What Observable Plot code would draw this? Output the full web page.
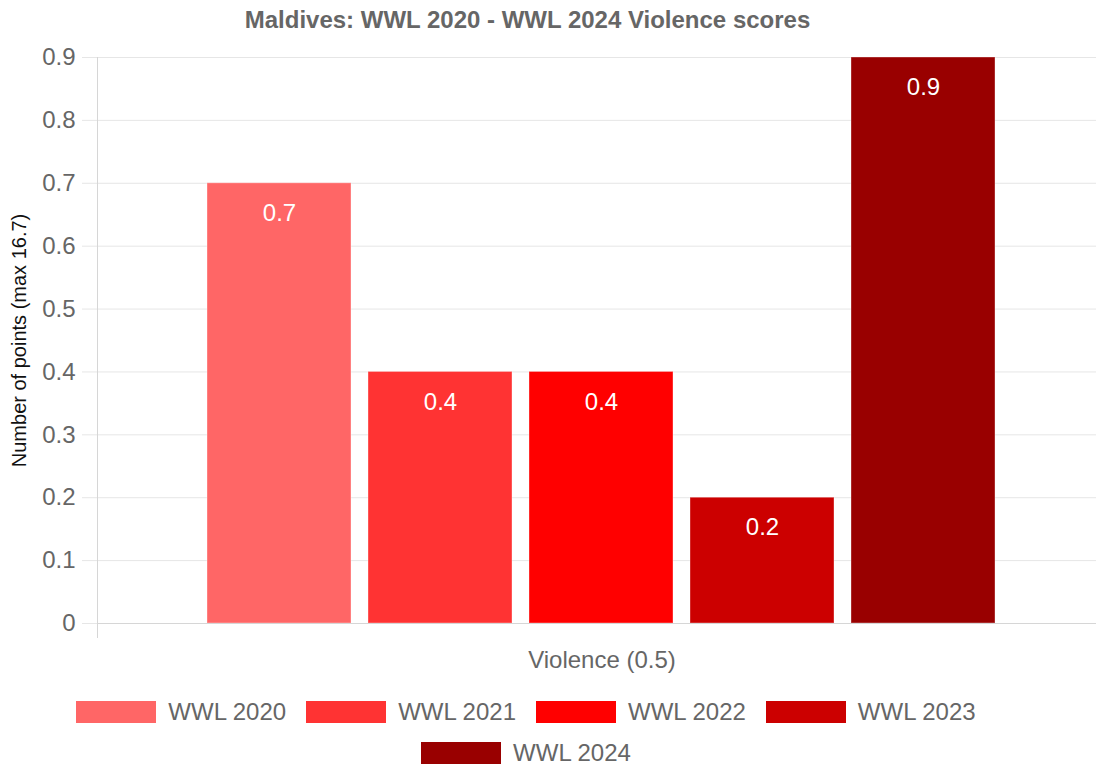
<!DOCTYPE html>
<html>
<head>
<meta charset="utf-8">
<script src="https://cdn.jsdelivr.net/npm/d3@7"></script>
<script src="https://cdn.jsdelivr.net/npm/@observablehq/plot@0.6"></script>
<style>
  html, body { margin: 0; padding: 0; background: #fff; }
  body { width: 1096px; height: 765px; overflow: hidden; font-family: "Liberation Sans", Arial, sans-serif; }
  #title { width: 1055px; height: 40px; line-height: 40px; text-align: center; font-weight: bold; font-size: 24px; color: #666; }
  #chart svg { display: block; }
  #legend { width: 1052px; display: flex; flex-wrap: wrap; justify-content: center; row-gap: 19px; padding-top: 11px; }
  .item { display: inline-flex; align-items: center; margin: 0 10px; height: 22px; }
  .swatch { width: 80px; height: 22px; margin-right: 12px; box-sizing: border-box; }
  .lbl { font-size: 24px; color: #666; line-height: 22px; }
</style>
</head>
<body>
<div id="title"></div>
<div id="chart"></div>
<div id="legend"></div>
<script>
const titleText = "Maldives: WWL 2020 - WWL 2024 Violence scores";
const category = ["Violence (0.5)"];
const series = ["WWL 2020", "WWL 2021", "WWL 2022", "WWL 2023", "WWL 2024"];
const values = [0.7, 0.4, 0.4, 0.2, 0.9];
const colors = ["#ff6666", "#ff3333", "#ff0000", "#cc0000", "#990000"];
const yTicks = [0, 0.1, 0.2, 0.3, 0.4, 0.5, 0.6, 0.7, 0.8, 0.9];
const yTitle = "Number of points (max 16.7)";

const data = series.map((s, i) => ({series: s, value: values[i]}));

document.getElementById("title").textContent = titleText;

const chart = Plot.plot({
  width: 1096,
  height: 650,
  marginLeft: 97,
  marginRight: 0,
  marginTop: 17,
  marginBottom: 67,
  style: {fontFamily: "'Liberation Sans', Arial, sans-serif", background: "#fff"},
  x: {domain: series, paddingInner: 0.1056, paddingOuter: 0.655, align: 0.52, axis: null},
  y: {domain: [0, 0.9], axis: null},
  color: {domain: series, range: colors},
  marks: [
    Plot.gridY(yTicks, {stroke: "#e6e6e6", strokeOpacity: 1}),
    Plot.axisY(yTicks, {tickSize: 15, tickPadding: 7, stroke: "#e6e6e6", fill: "#666", fontSize: 24, label: null, tickFormat: d => String(d)}),
    Plot.axisY([], {label: yTitle, labelAnchor: "center", labelArrow: "none", labelOffset: 86, fontSize: 20, fill: "#111", tickSize: 0}),
    Plot.barY(data, {x: "series", y: "value", fill: "series", stroke: "#fff", strokeOpacity: 0.35, strokeWidth: 1}),
    Plot.text(data, {x: "series", y: "value", text: d => String(d.value), dy: 30, fill: "#fff", fontSize: 24}),
    Plot.ruleY([0], {stroke: "#d6d6d6"}),
    Plot.frame({anchor: "left", stroke: "#d6d6d6", insetBottom: -14}),
    Plot.text(category, {frameAnchor: "bottom", dy: 44, dx: 5, fill: "#666", fontSize: 24})
  ]
});
document.getElementById("chart").appendChild(chart);

const legend = document.getElementById("legend");
series.forEach((s, i) => {
  const item = document.createElement("div");
  item.className = "item";
  const sw = document.createElement("div");
  sw.className = "swatch";
  sw.style.background = colors[i];
  const lb = document.createElement("span");
  lb.className = "lbl";
  lb.textContent = s;
  item.appendChild(sw);
  item.appendChild(lb);
  legend.appendChild(item);
});
</script>
</body>
</html>
